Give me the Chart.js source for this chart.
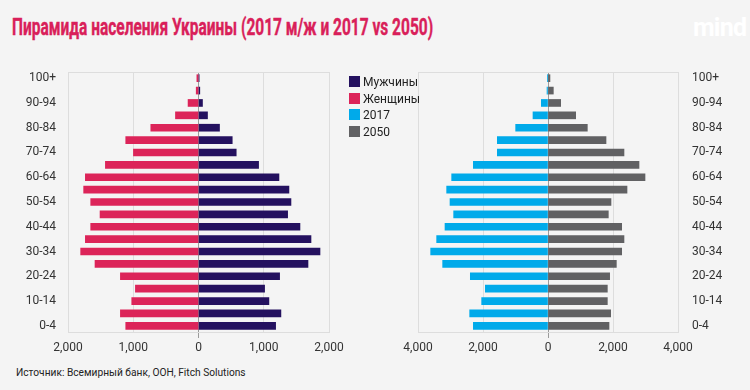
<!DOCTYPE html>
<html>
<head>
<meta charset="utf-8">
<script src="https://cdn.jsdelivr.net/npm/chart.js@4/dist/chart.umd.min.js"></script>
<style>
  body { margin: 0; background: #f4f4f4; }
  #page { position: relative; width: 750px; height: 390px; background: #f4f4f4; overflow: hidden; font-family: Roboto, "Liberation Sans", sans-serif; }
  #title { position: absolute; left: 12px; top: 14px; font-family: Roboto, sans-serif; font-weight: bold; font-size: 23px; line-height: 28px; color: #d91f5a; white-space: nowrap; transform-origin: 0 0; -webkit-text-stroke: 0.4px #d91f5a; }
  #logo { position: absolute; left: 693px; top: 13px; font-family: Roboto, sans-serif; font-weight: bold; font-size: 25px; color: #ffffff; letter-spacing: -0.8px; }
  #source { position: absolute; left: 16px; top: 367px; font-size: 10.2px; color: #222; }
  .wrap { position: absolute; top: 60px; height: 295px; width: 350px; }
  #leftWrap { left: 0; }
  #rightWrap { left: 400px; }
  #legend { position: absolute; left: 349px; top: 76px; font-size: 12px; color: #222; }
  #legend div { height: 16.6px; line-height: 13px; white-space: nowrap; }
  #legend span { display: inline-block; width: 11px; height: 11px; margin-right: 3px; vertical-align: -1px; }
</style>
</head>
<body>
<div id="page">
  <div id="title">Пирамида населения Украины (2017 м/ж и 2017 vs 2050)</div>
  <div id="logo">mind</div>
  <div class="wrap" id="leftWrap"><canvas id="leftChart"></canvas></div>
  <div class="wrap" id="rightWrap"><canvas id="rightChart"></canvas></div>
  <div id="legend"></div>
  <div id="source">Источник: Всемирный банк, ООН, Fitch Solutions</div>
</div>
<script>
// возрастные группы, снизу вверх
const ages = ['0-4', '5-9', '10-14', '15-19', '20-24', '25-29', '30-34', '35-39', '40-44', '45-49',
  '50-54', '55-59', '60-64', '65-69', '70-74', '75-79', '80-84', '85-89', '90-94', '95-99', '100+'];

// 2017, тыс. человек
const men = [1182, 1263, 1079, 1013, 1243, 1678, 1862, 1724, 1555, 1366,
  1417, 1386, 1233, 921, 578, 517, 322, 138, 61, 20, 10];
const women = [1115, 1197, 1023, 967, 1197, 1586, 1806, 1734, 1652, 1509,
  1652, 1760, 1734, 1427, 997, 1115, 731, 353, 160, 35, 25];

// всего, 2017 и прогноз 2050
const pop2017 = [2297, 2410, 2041, 1928, 2390, 3241, 3610, 3426, 3169, 2903,
  3015, 3118, 2964, 2297, 1559, 1559, 995, 462, 205, 30, 10];
const pop2050 = [1877, 1928, 1826, 1826, 1897, 2103, 2267, 2338, 2267, 1856,
  1938, 2431, 2985, 2800, 2338, 1785, 1210, 851, 390, 164, 60];

const leftTicks = [-2000, -1000, 0, 1000, 2000];
const rightTicks = [-4000, -2000, 0, 2000, 4000];

const seriesNames = ['Мужчины', 'Женщины', '2017', '2050'];
const seriesColors = ['#24115f', '#dc2459', '#00aaea', '#616163'];

// заголовок сжимаем по ширине, как в оригинале
const title = document.getElementById('title');
title.style.transform = `scaleX(${421 / title.offsetWidth})`;

// легенда
const legend = document.getElementById('legend');
seriesNames.forEach((name, i) => {
  legend.innerHTML += `<div><span style="background:${seriesColors[i]}"></span>${name}</div>`;
});

const tickFont = { family: 'Roboto, "Liberation Sans", sans-serif', size: 12 };
const gridColor = '#dddddd';
const zeroColor = '#9a9a9a';

function fmt(v) {
  return Math.abs(v).toLocaleString('en-US');
}

// верхняя рамка области графика
const topLine = {
  id: 'topLine',
  beforeDatasetsDraw(chart) {
    const { ctx, chartArea } = chart;
    ctx.save();
    ctx.strokeStyle = gridColor;
    ctx.lineWidth = 1;
    ctx.beginPath();
    ctx.moveTo(chartArea.left, Math.round(chartArea.top) + 0.5);
    ctx.lineTo(chartArea.right, Math.round(chartArea.top) + 0.5);
    ctx.stroke();
    ctx.restore();
  }
};

function buildChart(canvasId, leftData, rightData, leftIdx, rightIdx, tickValues, yPos, padding) {
  const max = tickValues[tickValues.length - 1];
  return new Chart(document.getElementById(canvasId), {
    type: 'bar',
    data: {
      labels: ages,
      datasets: [
        { label: seriesNames[leftIdx], data: leftData.map(v => -v), backgroundColor: seriesColors[leftIdx], barThickness: 7 },
        { label: seriesNames[rightIdx], data: rightData, backgroundColor: seriesColors[rightIdx], barThickness: 7 }
      ]
    },
    plugins: [topLine],
    options: {
      indexAxis: 'y',
      responsive: true,
      maintainAspectRatio: false,
      animation: false,
      layout: { padding: padding },
      plugins: { legend: { display: false }, tooltip: { enabled: false } },
      scales: {
        x: {
          stacked: true,
          min: -max,
          max: max,
          afterBuildTicks: axis => { axis.ticks = tickValues.map(v => ({ value: v })); },
          afterFit: axis => { axis.height = 23; },
          ticks: { callback: v => fmt(v), font: tickFont, color: '#333', padding: 3, maxRotation: 0 },
          grid: {
            color: ctx => (ctx.tick && ctx.tick.value === 0 ? zeroColor : gridColor),
            tickColor: ctx => (ctx.tick && ctx.tick.value === 0 ? zeroColor : 'rgba(0,0,0,0)'),
            tickLength: 6
          },
          border: { display: true, color: gridColor }
        },
        y: {
          stacked: true,
          reverse: true,
          position: yPos,
          afterFit: axis => { axis.width = yPos === 'left' ? 68 : 72; },
          ticks: {
            autoSkip: false,
            font: tickFont,
            color: '#333',
            padding: 0,
            callback: function (v, i) { return i % 2 === 0 ? this.getLabelForValue(v) : ''; }
          },
          grid: {
            display: true,
            drawOnChartArea: false,
            tickLength: yPos === 'left' ? 12 : 14,
            tickColor: 'rgba(0,0,0,0)'
          },
          border: { display: false }
        }
      }
    }
  });
}

buildChart('leftChart', women, men, 1, 0, leftTicks, 'left', { top: 12, right: 21, left: 0, bottom: 0 });
buildChart('rightChart', pop2017, pop2050, 2, 3, rightTicks, 'right', { top: 12, right: 0, left: 18, bottom: 0 });
</script>
</body>
</html>
